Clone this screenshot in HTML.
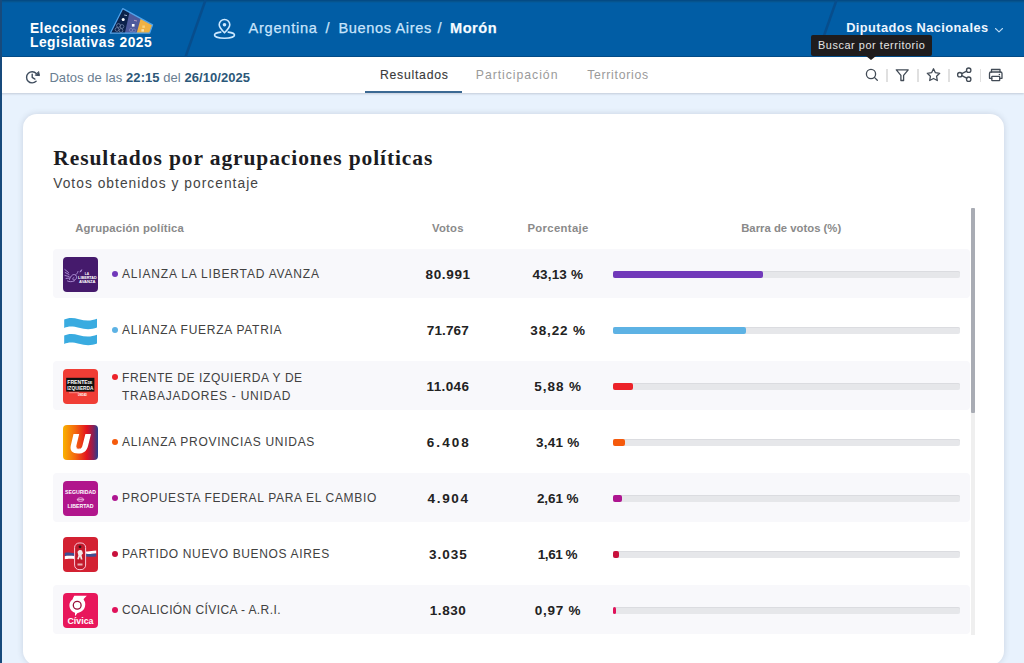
<!DOCTYPE html>
<html lang="es">
<head>
<meta charset="utf-8">
<title>Elecciones Legislativas 2025 - Morón</title>
<style>
*{box-sizing:border-box;margin:0;padding:0}
html,body{width:1024px;height:663px;overflow:hidden}
body{background:#e8f2fd;font-family:"Liberation Sans",Arial,sans-serif;position:relative;color:#333}
.abs{position:absolute;white-space:nowrap;line-height:1}
#leftstrip{position:absolute;left:0;top:0;width:2px;height:663px;background:#174a7c;z-index:50}
/* header */
#hdr{position:absolute;left:0;top:0;width:1024px;height:57px;background:#015da5;overflow:hidden}
#hdr .topline{position:absolute;left:0;top:0;width:1024px;height:3px;background:linear-gradient(#044b85 0,#044b85 1px,#06548e 1px,#06548e 2px,#035a9d 2px)}
.brand{color:#fff;font-weight:bold;font-size:13.8px}
.crumb{color:#c9e4fc;font-size:14.6px;-webkit-text-stroke:.25px #c9e4fc}
/* subheader */
#sub{position:absolute;left:0;top:57px;width:1024px;height:36px;background:#fff;box-shadow:0 1px 2px rgba(40,50,70,.2)}
.datos{color:#6a7e92;font-size:13px}
.datos b{color:#2c5879}
.tab{font-size:12.25px;color:#9a9a9a}
.tab.on{color:#3a3a3a;-webkit-text-stroke:.12px #3a3a3a}
.sep{position:absolute;top:68.5px;width:1.6px;height:13.5px;background:#e0e0e0}
/* tooltip */
#tip{position:absolute;left:811px;top:35px;width:121px;height:21px;background:#1f1c1d;border-radius:2px;z-index:20}
#tip:after{content:"";position:absolute;left:55px;top:21px;border:5px solid transparent;border-top:4px solid #1f1c1d;border-bottom:0}
/* card */
#card{position:absolute;left:23px;top:114px;width:981px;height:551px;background:#fff;border-radius:14px;box-shadow:0 0 6px rgba(40,50,75,.16)}
.title{font-family:"Liberation Serif",serif;font-weight:bold;font-size:21.5px;letter-spacing:.9px;color:#1c1c22}
.subt{font-size:13.8px;letter-spacing:1.02px;color:#444}
.th{font-size:11.3px;font-weight:bold;color:#8a8a8a}
.row{position:absolute;left:52.5px;width:917.5px;height:49px;border-radius:4px}
.row.g{background:#f8f8fb}
.logo{position:absolute;left:63px;width:35px;height:35px;border-radius:4px;overflow:hidden}
.dot{position:absolute;left:112px;width:6px;height:6px;border-radius:50%}
.pn{font-size:12px;letter-spacing:.8px;color:#414141}
.num{font-size:13.5px;font-weight:bold;color:#222}
.track{position:absolute;left:613px;width:347px;height:7px;background:#e6e7ea;border-radius:2px;box-shadow:inset 0 1px 0 #dbdce0}
.fill{position:absolute;left:0;top:0;height:7px;border-radius:2px}
#sbar{position:absolute;left:971.3px;top:208px;width:3.6px;height:427px;background:#efefef}
#sthumb{position:absolute;left:971.3px;top:208px;width:3.6px;height:205px;background:#a9acb4;border-radius:1px}
</style>
</head>
<body>
<div id="leftstrip"></div>

<!-- HEADER -->
<div id="hdr">
  <div class="topline"></div>
  <div style="position:absolute;left:0;top:55.5px;width:1024px;height:1.5px;background:#034c88"></div>
  <svg width="1024" height="57" style="position:absolute;left:0;top:0">
    <line x1="205.5" y1="0" x2="185.5" y2="57" stroke="#074d8c" stroke-width="2.5"/>
    <line x1="836.5" y1="0" x2="816.5" y2="57" stroke="#074d8c" stroke-width="2.5"/>
  </svg>
  <div class="abs brand" id="t_elec" style="left:30px;top:21.5px;letter-spacing:.42px">Elecciones</div>
  <div class="abs brand" id="t_leg" style="left:30px;top:35.5px;letter-spacing:.51px">Legislativas 2025</div>
  <!-- ballot logo -->
  <svg width="50" height="30" style="position:absolute;left:107px;top:6px" viewBox="107 6 50 30">
    <defs><clipPath id="bc"><polygon points="110.3,33.2 122.8,8.6 152.6,24.9 149.6,33.2"/></clipPath></defs>
    <g clip-path="url(#bc)">
      <rect x="105" y="5" width="55" height="32" fill="#eeb143"/>
      <polygon points="105,5 144.4,5 135.6,37 105,37" fill="#4e5a9c"/>
      <polygon points="105,5 131.1,5 124,37 105,37" fill="#0c224b"/>
      <circle cx="118.5" cy="25.5" r="1.9" fill="none" stroke="#7d8fb3" stroke-width=".7"/>
      <circle cx="122" cy="26.5" r="1.9" fill="none" stroke="#7d8fb3" stroke-width=".7"/>
      <circle cx="117" cy="29.5" r="1.9" fill="none" stroke="#7d8fb3" stroke-width=".7"/>
      <circle cx="121" cy="30.5" r="1.9" fill="none" stroke="#7d8fb3" stroke-width=".7"/>
      <circle cx="131" cy="30" r="1.6" fill="none" stroke="#8c93c4" stroke-width=".6"/>
      <circle cx="134" cy="30.5" r="1.6" fill="none" stroke="#8c93c4" stroke-width=".6"/>
      <rect x="142.3" y="25.5" width="2.6" height="2.4" fill="#f7d27a"/>
      <rect x="141.4" y="29.2" width="2.6" height="2.4" fill="#fbe3a8"/>
    </g>
    <polygon points="110.3,33.2 122.8,8.6 152.6,24.9 149.6,33.2" fill="none" stroke="#4ea2ec" stroke-width="1.2" stroke-linejoin="round"/>
    <circle cx="123.2" cy="19.6" r="1.5" fill="#fff"/>
    <path d="M124.2 15 L127 15.6" stroke="#c8d4ea" stroke-width=".8"/>
    <rect x="131.9" y="24" width="2.6" height="2.6" fill="#fff"/>
    <path d="M134 20.3 L137 21" stroke="#c9a7c9" stroke-width=".8"/>
  </svg>
  <!-- pin icon -->
  <svg width="24" height="24" viewBox="0 0 24 24" style="position:absolute;left:213px;top:17px" fill="none" stroke="#cde8ff" stroke-width="1.6" stroke-linecap="round" stroke-linejoin="round">
    <path d="M11.5 15.8 C8.5 12.8 6.2 10.5 6.2 7.8 A5.3 5.3 0 0 1 16.8 7.8 C16.8 10.5 14.5 12.8 11.5 15.8 Z"/>
    <circle cx="11.5" cy="7.8" r="1.8" fill="#cde8ff" stroke="none"/>
    <path d="M7.8 15.1 C3.8 15.6 1.5 16.7 1.5 18 C1.5 19.9 6 21.2 11.5 21.2 C17 21.2 21.5 19.9 21.5 18 C21.5 16.7 19.2 15.6 15.2 15.1"/>
  </svg>
  <div class="abs crumb" id="t_arg" style="left:248.4px;top:21px;letter-spacing:.76px">Argentina</div>
  <div class="abs crumb" id="t_s1" style="left:325.5px;top:21px">/</div>
  <div class="abs crumb" id="t_ba" style="left:338.4px;top:21px;letter-spacing:.62px">Buenos Aires</div>
  <div class="abs crumb" id="t_s2" style="left:437.5px;top:21px">/</div>
  <div class="abs crumb" id="t_mor" style="left:450px;top:21px;letter-spacing:.5px;color:#fff;font-weight:bold">Morón</div>
  <div class="abs brand" id="t_dip" style="left:846.2px;top:22.3px;font-size:12.8px;letter-spacing:.43px;color:#eef6ff">Diputados Nacionales</div>
  <svg width="10" height="6" viewBox="0 0 10 6" style="position:absolute;left:994px;top:26.5px" fill="none" stroke="#b9d8f4" stroke-width="1.1" stroke-linecap="round" stroke-linejoin="round"><path d="M1.5 1.5 L5 4.8 L8.5 1.5"/></svg>
</div>

<!-- SUBHEADER -->
<div id="sub"></div>
<svg width="16" height="16" viewBox="0 0 16 16" style="position:absolute;left:25px;top:70px" fill="none" stroke="#3f4d5e" stroke-width="1.4" stroke-linecap="round" stroke-linejoin="round">
  <path d="M11.1 11.3 A5.6 5.6 0 1 1 11.3 3.5"/>
  <path d="M7.2 4.3 L7.2 7.3 L9.9 9.1"/>
  <path d="M13.7 1.9 L14.5 5.6 L10.7 5.3 Z" fill="#3f4d5e" stroke-width="1"/>
</svg>
<div class="abs datos" id="t_datos" style="left:49.4px;top:70.5px;letter-spacing:.06px">Datos de las <b>22:15</b> del <b>26/10/2025</b></div>
<div class="abs tab on" id="t_res" style="left:380px;top:69.2px;letter-spacing:.73px">Resultados</div>
<div class="abs tab" id="t_par" style="left:475.8px;top:69.2px;letter-spacing:.96px">Participación</div>
<div class="abs tab" id="t_ter" style="left:587.2px;top:69.2px;letter-spacing:.71px">Territorios</div>
<div style="position:absolute;left:365px;top:91px;width:97px;height:2px;background:#3b6993"></div>

<!-- toolbar icons -->
<svg width="160" height="20" viewBox="860 66 160 20" style="position:absolute;left:860px;top:66px" fill="none" stroke="#424b56" stroke-width="1.3" stroke-linecap="round" stroke-linejoin="round">
  <circle cx="871" cy="74" r="4.6"/>
  <path d="M874.4 77.4 L877.3 80.2"/>
  <path d="M896.3 69.8 L908.2 69.8 L903.6 75.4 L903.6 80.5 L900.9 80.5 L900.9 75.4 Z"/>
  <path d="M933.5 68.8 L935.4 72.7 L939.7 73.3 L936.6 76.3 L937.3 80.5 L933.5 78.5 L929.7 80.5 L930.4 76.3 L927.3 73.3 L931.6 72.7 Z"/>
  <circle cx="959.8" cy="74.7" r="2.2"/>
  <circle cx="968.7" cy="70.2" r="2.2"/>
  <circle cx="968.7" cy="79.2" r="2.2"/>
  <path d="M961.8 73.7 L966.7 71.2 M961.8 75.7 L966.7 78.2"/>
  <path d="M991.5 72 L991.5 69.5 L1000 69.5 L1000 72"/>
  <path d="M991.8 78.3 L989.5 78.3 L989.5 73.5 Q989.5 72 991 72 L1000.5 72 Q1002 72 1002 73.5 L1002 78.3 L999.7 78.3"/>
  <rect x="991.8" y="76.3" width="7.9" height="4.4" rx=".5"/>
  <circle cx="999.4" cy="74.4" r=".75" fill="#3c4652" stroke="none"/>
</svg>
<div class="sep" style="left:886.3px"></div>
<div class="sep" style="left:917.3px"></div>
<div class="sep" style="left:948.2px"></div>
<div class="sep" style="left:979.5px"></div>

<!-- tooltip -->
<div id="tip"></div>
<div class="abs" id="t_tip" style="left:818px;top:39.9px;font-size:10.9px;letter-spacing:.56px;color:#e4e4e4;z-index:21">Buscar por territorio</div>

<!-- CARD -->
<div id="card"></div>
<div class="abs title" id="t_title" style="left:53.3px;top:148.2px">Resultados por agrupaciones políticas</div>
<div class="abs subt" id="t_subt" style="left:53.2px;top:176.8px">Votos obtenidos y porcentaje</div>

<div class="abs th" id="t_h1" style="left:75.2px;top:223px;letter-spacing:.17px">Agrupación política</div>
<div class="abs th" id="t_h2" style="left:432px;top:223px;letter-spacing:.25px">Votos</div>
<div class="abs th" id="t_h3" style="left:527.4px;top:223px;letter-spacing:.36px">Porcentaje</div>
<div class="abs th" id="t_h4" style="left:741.2px;top:223px;letter-spacing:.01px">Barra de votos (%)</div>

<div id="sbar"></div>
<div id="sthumb"></div>

<!-- rows -->
<div class="row g" style="top:249px"></div>
<div class="row g" style="top:361px"></div>
<div class="row g" style="top:473px"></div>
<div class="row g" style="top:585px"></div>

<!-- ROWS -->
<!-- row 1 -->
<div class="logo" id="lg0" style="top:256.6px"><svg width="35" height="35" viewBox="0 0 35 35"><rect width="35" height="35" fill="#451a6c"/>
<g fill="none" stroke="#b497dc" stroke-width=".9" stroke-linecap="round">
<path d="M1.8 12.5 L5.5 15.5 M2.2 15.5 L6 17.5 M2 18.5 L6 19.5 M3 21.5 L6.5 21"/>
<path d="M6.5 22.5 C7.5 18.5 10.5 16.5 12.5 18 C14.5 19.5 13.5 23 11 23 C9.5 23 9.3 21 10.8 20.5"/>
<path d="M4.5 24 C6.5 25 9 25 11.5 23.8 M12.5 18 C13.8 17 14.5 16 15 14.5"/>
</g>
<path d="M16.5 15.5 C16.8 13.8 17.8 12.6 19.3 12.2 C19.2 13.8 18.3 15 16.5 15.5 Z" fill="#b497dc"/>
<g fill="#fff" font-family="Liberation Sans, sans-serif" font-weight="bold">
<text x="21.7" y="18.2" font-size="3.9" textLength="4.3" lengthAdjust="spacingAndGlyphs">LA</text>
<text x="15.1" y="21.8" font-size="3.3" textLength="18.7" lengthAdjust="spacingAndGlyphs">LIBERTAD</text>
<text x="16" y="25.6" font-size="3.3" textLength="16.5" lengthAdjust="spacingAndGlyphs">AVANZA</text>
</g></svg></div>
<div class="dot" style="top:271px;background:#7139ba"></div>
<div class="abs pn" id="n0" style="left:122px;top:268.4px;letter-spacing:0.82px">ALIANZA LA LIBERTAD AVANZA</div>
<div class="abs num" id="v0" style="left:348.14px;width:200px;text-align:center;top:267.5px;letter-spacing:0.68px">80.991</div>
<div class="abs num" id="p0" style="left:457.78px;width:200px;text-align:center;top:267.5px;letter-spacing:0.17px">43,13 %</div>
<div class="track" style="top:271px"><div class="fill" style="width:149.7px;background:#7139ba"></div></div>
<!-- row 2 -->
<div class="logo" id="lg1" style="top:312.6px"><svg width="35" height="35" viewBox="0 0 35 35"><g fill="#39abe0">
<path d="M1.2 6.6 C5 4.6 10 4.4 16 6.2 C22 8 28 8.2 34 5.8 L34 14.6 C28 17 22 16.6 16 14.8 C10 13 5 13 1.2 15 Z"/>
<path d="M1.2 22.6 C5 20.6 10 20.4 16 22.2 C22 24 28 24.2 34 21.8 L34 30.6 C28 33 22 32.6 16 30.8 C10 29 5 29 1.2 31 Z"/>
</g></svg></div>
<div class="dot" style="top:327px;background:#5db2e4"></div>
<div class="abs pn" id="n1" style="left:122px;top:324.4px;letter-spacing:0.735px">ALIANZA FUERZA PATRIA</div>
<div class="abs num" id="v1" style="left:347.86px;width:200px;text-align:center;top:323.5px;letter-spacing:0.12px">71.767</div>
<div class="abs num" id="p1" style="left:458.14px;width:200px;text-align:center;top:323.5px;letter-spacing:0.89px">38,22 %</div>
<div class="track" style="top:327px"><div class="fill" style="width:132.6px;background:#5db2e4"></div></div>
<!-- row 3 -->
<div class="logo" id="lg2" style="top:368.6px"><svg width="35" height="35" viewBox="0 0 35 35"><rect width="35" height="35" fill="#f03d35"/>
<rect x="3.2" y="8.8" width="28.2" height="13.8" fill="#111"/>
<g fill="#fff" font-family="Liberation Sans, sans-serif" font-weight="bold">
<text x="4.3" y="14.6" font-size="5.4" textLength="25" lengthAdjust="spacingAndGlyphs">FRENTE<tspan font-size="3.5">DE</tspan></text>
<text x="4.3" y="20.6" font-size="5.4" textLength="26" lengthAdjust="spacingAndGlyphs">IZQUIERDA</text>
<text x="15" y="27" font-size="2.6" textLength="9" lengthAdjust="spacingAndGlyphs">UNIDAD</text>
</g><rect x="6" y="23.6" width="10" height=".5" fill="#fff" opacity=".8"/></svg></div>
<div class="dot" style="top:374px;background:#ec2229"></div>
<div class="abs pn" id="n2a" style="left:122px;top:371.9px;letter-spacing:0.574px">FRENTE DE IZQUIERDA Y DE</div>
<div class="abs pn" id="n2b" style="left:122px;top:389.5px;letter-spacing:0.755px">TRABAJADORES - UNIDAD</div>
<div class="abs num" id="v2" style="left:347.99px;width:200px;text-align:center;top:379.5px;letter-spacing:0.38px">11.046</div>
<div class="abs num" id="p2" style="left:458.17px;width:200px;text-align:center;top:379.5px;letter-spacing:0.94px">5,88 %</div>
<div class="track" style="top:383px"><div class="fill" style="width:20.4px;background:#ec2229"></div></div>
<!-- row 4 -->
<div class="logo" id="lg3" style="top:424.6px"><svg width="35" height="35" viewBox="0 0 35 35"><defs><linearGradient id="gpu" x1="0" x2="1" y1="0" y2="0">
<stop offset="0" stop-color="#f9b200"/><stop offset=".35" stop-color="#f4680e"/><stop offset=".68" stop-color="#e2121f"/><stop offset=".86" stop-color="#8c1f55"/><stop offset="1" stop-color="#26408e"/></linearGradient></defs>
<rect width="35" height="35" fill="url(#gpu)"/>
<path transform="translate(0 1.4)" d="M10.5 7.5 L16.2 7.5 L13.4 19 C12.8 21.6 14 22.6 15.8 22.6 C18 22.6 19 21.2 19.6 18.6 L22.4 7.5 L28 7.5 L25 19.5 C23.8 24.6 20.4 27.2 15 27.2 C9.4 27.2 6.6 24.4 7.8 19.2 Z" fill="#fff"/>
<path transform="translate(0 1.4)" d="M13.2 20.5 C13.6 22.4 15 22.8 17 22.4" stroke="#f7c9c9" stroke-width=".8" fill="none"/>
</svg></div>
<div class="dot" style="top:439px;background:#f55a0c"></div>
<div class="abs pn" id="n3" style="left:122px;top:436.4px;letter-spacing:0.708px">ALIANZA PROVINCIAS UNIDAS</div>
<div class="abs num" id="v3" style="left:348.82px;width:200px;text-align:center;top:435.5px;letter-spacing:2.04px">6.408</div>
<div class="abs num" id="p3" style="left:457.82px;width:200px;text-align:center;top:435.5px;letter-spacing:0.24px">3,41 %</div>
<div class="track" style="top:439px"><div class="fill" style="width:11.8px;background:#f55a0c"></div></div>
<!-- row 5 -->
<div class="logo" id="lg4" style="top:480.6px"><svg width="35" height="35" viewBox="0 0 35 35"><rect width="35" height="35" fill="#b1168c"/>
<g fill="#fff" font-family="Liberation Sans, sans-serif" font-weight="bold" text-anchor="middle">
<text x="17.5" y="13.2" font-size="5" textLength="31" lengthAdjust="spacingAndGlyphs">SEGURIDAD</text>
<text x="17.5" y="27.4" font-size="5" textLength="26" lengthAdjust="spacingAndGlyphs">LIBERTAD</text>
</g>
<g fill="none" stroke="#f3c6e6" stroke-width=".8"><ellipse cx="17.5" cy="18.6" rx="3.2" ry="1.8"/><path d="M14 18.6 L21 18.6"/></g>
</svg></div>
<div class="dot" style="top:495px;background:#ae1590"></div>
<div class="abs pn" id="n4" style="left:122px;top:492.4px;letter-spacing:0.674px">PROPUESTA FEDERAL PARA EL CAMBIO</div>
<div class="abs num" id="v4" style="left:348.62px;width:200px;text-align:center;top:491.5px;letter-spacing:1.64px">4.904</div>
<div class="abs num" id="p4" style="left:457.64px;width:200px;text-align:center;top:491.5px;letter-spacing:-0.12px">2,61 %</div>
<div class="track" style="top:495px"><div class="fill" style="width:9.1px;background:#ae1590"></div></div>
<!-- row 6 -->
<div class="logo" id="lg5" style="top:536.6px"><svg width="35" height="35" viewBox="0 0 35 35"><rect width="35" height="35" fill="#d32132"/>
<path d="M1.8 16 C4 15.2 7 15.6 11.5 16.2 L11.5 19 C7 18.6 4 18.6 1.8 19.2 Z" fill="#3e4f93"/>
<path d="M1.8 19.2 C4 18.6 7 18.6 11.5 19 L11.5 22 C7 21.6 4 21.8 1.8 22.3 Z" fill="#fff"/>
<path d="M22.8 14.4 C26 14.6 29 14.2 33.2 13.6 L33.2 16.6 C29 17.2 26 17.2 22.8 16.8 Z" fill="#fff"/>
<path d="M22.8 16.8 C26 17.2 29 17.2 33.2 16.6 L33.2 19.4 C29 20 26 20 22.8 19.4 Z" fill="#3e4f93"/>
<rect x="11.6" y="6" width="11" height="26.6" rx="4.5" fill="#c21a2c" stroke="#fde" stroke-width=".9"/>
<path d="M14.5 15 C15.5 13 17.5 12.6 19 13.6 L20 16.5 L18.5 18 L19.5 22.5 L17.8 22.5 L17 19.5 L15.6 22.5 L14.2 22 L15.4 18.6 Z" fill="#f3e8e8"/>
<circle cx="17" cy="9.8" r="1.4" fill="#2a1a1a"/>
<rect x="14.5" y="26.5" width="5" height="2" fill="#f3d2d2" opacity=".8"/>
</svg></div>
<div class="dot" style="top:551px;background:#c8113c"></div>
<div class="abs pn" id="n5" style="left:122px;top:548.4px;letter-spacing:0.648px">PARTIDO NUEVO BUENOS AIRES</div>
<div class="abs num" id="v5" style="left:348.30px;width:200px;text-align:center;top:547.5px;letter-spacing:0.99px">3.035</div>
<div class="abs num" id="p5" style="left:457.48px;width:200px;text-align:center;top:547.5px;letter-spacing:-0.44px">1,61 %</div>
<div class="track" style="top:551px"><div class="fill" style="width:5.6px;background:#c8113c"></div></div>
<!-- row 7 -->
<div class="logo" id="lg6" style="top:592.6px"><svg width="35" height="35" viewBox="0 0 35 35"><rect width="35" height="35" fill="#e8175b"/>
<path d="M11.3 2.8 L23.8 2.8 C22 4.5 20.8 5.5 20.6 6.8 C22.3 8.5 22.6 11 22 13.5 C21 17.5 17.5 19.5 14.5 20 L12 23.2 L12 19.8 C8.5 18.5 6.3 15.5 6.4 12 C6.5 9.5 7.8 7.6 9.5 6.5 C10 5 10.5 4 11.3 2.8 Z" fill="#fff"/>
<circle cx="14.2" cy="12.3" r="3.9" fill="#fff" stroke="#9a0f3a" stroke-width="1.3"/>
<text x="17.5" y="31.2" fill="#fff" font-family="Liberation Sans, sans-serif" font-weight="bold" font-size="8.6" text-anchor="middle" textLength="26" lengthAdjust="spacingAndGlyphs">Cívica</text>
</svg></div>
<div class="dot" style="top:607px;background:#e0125a"></div>
<div class="abs pn" id="n6" style="left:122px;top:604.4px;letter-spacing:0.408px">COALICIÓN CÍVICA - A.R.I.</div>
<div class="abs num" id="v6" style="left:348.10px;width:200px;text-align:center;top:603.5px;letter-spacing:0.59px">1.830</div>
<div class="abs num" id="p6" style="left:458.07px;width:200px;text-align:center;top:603.5px;letter-spacing:0.74px">0,97 %</div>
<div class="track" style="top:607px"><div class="fill" style="width:3.4px;background:#e0125a"></div></div>
<!-- /ROWS -->
</body>
</html>
